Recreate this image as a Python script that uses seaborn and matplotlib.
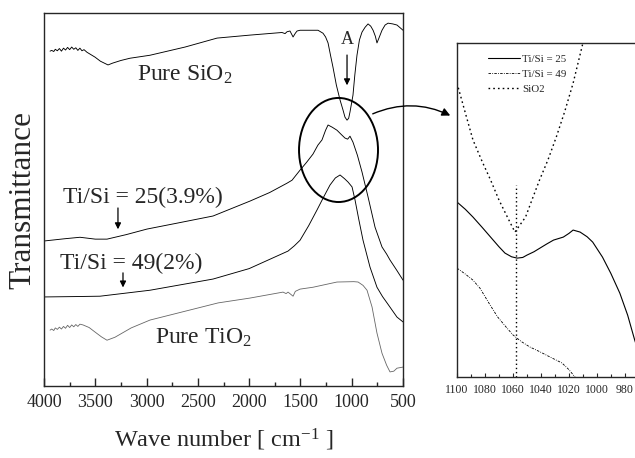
import numpy as np
import pandas as pd
import matplotlib
matplotlib.use("Agg")
import matplotlib.pyplot as plt
from matplotlib.patches import Ellipse, FancyArrowPatch
import seaborn as sns

# ---- main FTIR spectra (wavenumber cm-1, transmittance a.u.) ----
sio2_x = [3941, 3925, 3905, 3890, 3870, 3850, 3830, 3810, 3790, 3770, 3750, 3730, 3710,
          3690, 3670, 3650, 3630, 3610, 3581, 3503, 3450, 3376, 3330, 3250, 3162, 2967,
          2625, 2313, 1992, 1680, 1650, 1631, 1602, 1572, 1550, 1533, 1504, 1329, 1280,
          1255, 1231, 1207, 1183, 1150, 1114, 1085, 1066, 1046, 1030, 1017, 988, 970,
          949, 925, 900, 870, 841, 815, 792, 770, 754, 735, 705, 675, 646, 600, 559, 500]
sio2_y = [89.8, 90.0, 89.7, 90.3, 89.9, 90.5, 89.8, 90.6, 90.1, 90.8, 90.2, 90.9, 90.3,
          90.7, 90.0, 90.6, 89.9, 90.2, 89.5, 88.2, 87.1, 86.1, 86.6, 87.3, 87.9, 88.7,
          90.9, 93.3, 94.1, 94.8, 94.5, 95.0, 95.2, 93.6, 94.6, 95.2, 95.4, 95.4, 94.6,
          93.6, 92.0, 88.7, 85.5, 80.7, 76.7, 74.0, 72.1, 71.3, 71.8, 73.5, 78.0, 83.4,
          88.7, 92.8, 94.9, 96.2, 97.1, 96.5, 95.4, 93.8, 92.0, 93.3, 95.4, 96.8, 97.3,
          97.1, 96.8, 95.4]

ti25_x = [4000, 3800, 3649, 3500, 3386, 3200, 2996, 2700, 2352, 1992, 1800, 1631, 1582,
          1504, 1440, 1378, 1330, 1290, 1255, 1231, 1190, 1144, 1100, 1066, 1040, 1017,
          988, 945, 900, 841, 773, 705, 660, 627, 560, 500]
ti25_y = [38.9, 39.5, 39.9, 39.4, 39.4, 40.6, 42.1, 43.7, 45.6, 49.6, 51.9, 54.4, 55.2,
          57.9, 60.0, 62.2, 64.6, 66.0, 68.6, 70.0, 69.4, 68.6, 67.4, 66.5, 66.2, 67.0,
          65.4, 61.9, 57.4, 50.7, 42.6, 37.3, 35.4, 33.8, 31.0, 28.4]

ti49_x = [4000, 3700, 3454, 2967, 2352, 2000, 1621, 1560, 1504, 1420, 1339, 1270, 1212,
          1160, 1114, 1070, 1036, 997, 968, 930, 890, 822, 754, 700, 656, 559, 500]
ti49_y = [23.9, 24.0, 24.1, 25.7, 28.7, 31.5, 36.2, 37.6, 39.1, 43.0, 47.2, 50.9, 53.9,
          55.8, 56.6, 55.6, 54.7, 53.4, 49.9, 44.5, 39.1, 31.9, 26.5, 24.0, 22.3, 18.5,
          17.2]

tio2_x = [3941, 3925, 3905, 3890, 3870, 3850, 3830, 3810, 3790, 3770, 3750, 3730, 3710,
          3690, 3670, 3650, 3620, 3560, 3503, 3440, 3386, 3308, 3150, 2967, 2303, 1992,
          1670, 1640, 1621, 1572, 1550, 1504, 1378, 1144, 980, 938, 890, 851, 802, 754,
          705, 660, 627, 590, 559, 500]
tio2_y = [15.0, 15.3, 14.9, 15.6, 15.2, 15.8, 15.3, 16.0, 15.5, 16.3, 15.7, 16.4, 15.9,
          16.5, 16.0, 16.6, 16.4, 15.7, 14.5, 13.2, 12.3, 13.1, 15.6, 17.7, 22.3, 23.6,
          25.2, 24.8, 25.2, 24.1, 25.4, 26.0, 26.5, 27.9, 28.0, 27.9, 27.0, 25.7, 21.2,
          14.2, 8.8, 5.6, 3.8, 4.0, 4.8, 5.1]

# ---- zoomed inset, 1100-960 cm-1 ----
in_sio2_x = [1100, 1094, 1088.6, 1082, 1076, 1070, 1064, 1058.6, 1051, 1046, 1041, 1035,
             1029, 1023, 1017, 1010, 1005]
in_sio2_y = [88.0, 79.0, 71.0, 64.5, 59.0, 53.0, 47.9, 43.4, 47.9, 53.5, 59.0, 65.0,
             71.9, 79.5, 88.0, 100.0, 112.0]

in_ti25_x = [1100, 1094, 1088.6, 1082, 1076, 1070, 1065.7, 1061, 1057, 1053, 1050, 1045,
             1040.7, 1036, 1031, 1024, 1020, 1017, 1012, 1007, 1003, 996, 990, 983.6,
             978, 973, 962]
in_ti25_y = [52.4, 50.2, 47.9, 44.8, 41.9, 39.0, 37.1, 36.0, 35.6, 35.8, 36.5, 37.5,
             38.6, 39.8, 41.0, 41.9, 43.0, 44.0, 43.4, 42.0, 40.4, 35.9, 31.0, 25.1,
             18.5, 11.1, -3.4]

in_ti49_x = [1100, 1094, 1088.6, 1083.6, 1077, 1071, 1065, 1060, 1054, 1048, 1041,
             1033.6, 1025, 1020, 1015.7, 1010]
in_ti49_y = [32.6, 30.8, 29.0, 26.6, 22.0, 18.0, 15.0, 12.6, 10.6, 9.0, 7.6, 6.0, 4.2,
             2.2, 0.0, -3.0]

vline_x = 1058
vline_top = 57.5

sns.set_style("ticks")
plt.rcParams['font.family'] = ['Liberation Serif', 'DejaVu Serif']
plt.rcParams['mathtext.fontset'] = 'custom'
plt.rcParams['mathtext.rm'] = 'Liberation Serif'
plt.rcParams['mathtext.it'] = 'Liberation Serif:italic'

fig = plt.figure(figsize=(6.35, 4.58), dpi=100)
ax = fig.add_axes([0.0693, 0.157, 0.5654, 0.8144])

kw = dict(ax=ax, sort=False, estimator=None)
sns.lineplot(x=sio2_x, y=sio2_y, color='k', lw=0.65, **kw)
sns.lineplot(x=ti25_x, y=ti25_y, color='k', lw=0.65, **kw)
sns.lineplot(x=ti49_x, y=ti49_y, color='k', lw=0.65, **kw)
sns.lineplot(x=tio2_x, y=tio2_y, color='0.4', lw=0.6, **kw)

ax.set_xlim(4000, 500)
ax.set_ylim(0, 100)
ax.set_xticks(np.arange(4000, 499, -500))
ax.set_xticks(np.arange(3750, 500, -500), minor=True)
ax.set_yticks([])
ax.tick_params(axis='x', which='major', direction='in', length=6, width=1,
               labelsize=13, pad=6)
ax.tick_params(axis='x', which='minor', direction='in', length=3, width=1)
for s in ax.spines.values():
    s.set_linewidth(1.0)
ax.set_xlabel('Wave number [ cm$^{-1}$ ]', fontsize=17.5, labelpad=11)
ax.set_ylabel('Transmittance', fontsize=22.5, labelpad=5)

tx = dict(fontsize=17, va='center', ha='left')
ax.text(3093, 83.4, 'Pure SiO$_2$', **tx)
ax.text(3815, 50.7, 'Ti/Si = 25(3.9%)', **tx)
ax.text(3844, 33.0, 'Ti/Si = 49(2%)', **tx)
ax.text(2918, 12.9, 'Pure TiO$_2$', **tx)
ax.text(1046, 92.8, 'A', fontsize=13, ha='center', va='center')

arr = dict(arrowstyle='-|>', color='k', lw=0.9, mutation_scale=9)
ax.annotate('', xy=(1046, 79.9), xytext=(1046, 89.5), arrowprops=arr)
ax.annotate('', xy=(3279, 41.3), xytext=(3279, 48.5), arrowprops=arr)
ax.annotate('', xy=(3230, 25.7), xytext=(3230, 31.1), arrowprops=arr)

ax.add_patch(Ellipse((1129, 63.3), 770, 27.9, fill=False, lw=1.4, color='k'))

fig.add_artist(FancyArrowPatch(
    (0.583, 0.749), (0.713, 0.745), transform=fig.transFigure,
    connectionstyle='arc3,rad=-0.24', arrowstyle='-|>', mutation_scale=12,
    color='k', lw=1.0))

# ---- inset ----
ins = fig.add_axes([0.7197, 0.1769, 0.304, 0.729])
sns.lineplot(x=in_ti25_x, y=in_ti25_y, ax=ins, color='k', lw=0.8, sort=False,
             estimator=None, label='Ti/Si = 25')
sns.lineplot(x=in_ti49_x, y=in_ti49_y, ax=ins, color='k', lw=0.6, sort=False,
             estimator=None, label='Ti/Si = 49', linestyle=(0, (3, 1.5, 1, 1.5)))
sns.lineplot(x=in_sio2_x, y=in_sio2_y, ax=ins, color='k', lw=1.0, sort=False,
             estimator=None, label='SiO2', linestyle=(0, (1.2, 2.2)))
ins.vlines(vline_x, 0, vline_top, colors='k', lw=1.0, linestyles=(0, (1, 2)))

ins.set_xlim(1100, 962)
ins.set_ylim(0, 100)
ins.set_xticks(np.arange(1100, 961, -20))
ins.set_xticks(np.arange(1090, 961, -10), minor=True)
ins.set_yticks([])
ins.tick_params(axis='x', which='major', direction='in', length=3, width=0.8,
                labelsize=8.5, pad=5)
ins.tick_params(axis='x', which='minor', direction='in', length=2, width=0.8)
for s in ins.spines.values():
    s.set_linewidth(1.0)
ins.set_xlabel('')
ins.legend(loc='upper left', bbox_to_anchor=(0.12, 0.99), frameon=False,
           fontsize=7.8, handlelength=3.0, handletextpad=0.2, labelspacing=0.5,
           borderpad=0.2)

fig.savefig('out.png', dpi=100)
